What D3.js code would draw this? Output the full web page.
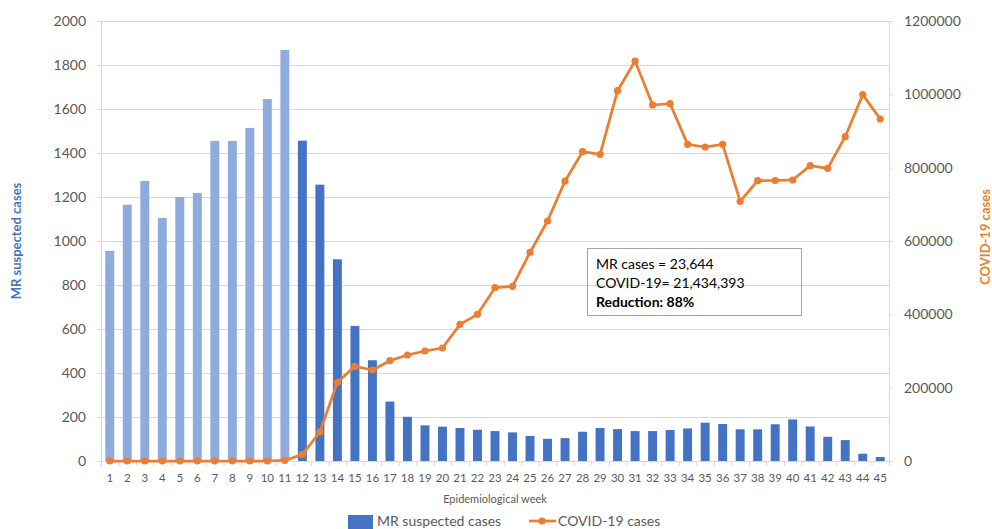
<!DOCTYPE html>
<html>
<head>
<meta charset="utf-8">
<style>
  body { margin: 0; background: #fff; }
  text { font-family: Lato, "Open Sans", sans-serif; }
</style>
</head>
<body>
<div id="chart"></div>
<script src="https://d3js.org/d3.v7.min.js"></script>
<script>

// epidemiological weeks 1..45
var weeks = d3.range(1, 46);

// MR suspected cases per week (left axis)
var mrCases = [955, 1165, 1273, 1105, 1200, 1218, 1455, 1455, 1514, 1645, 1868,
               1456, 1256, 917, 614, 458, 270, 201, 162, 156, 150, 142, 136, 130,
               114, 101, 104, 133, 150, 145, 136, 136, 141, 148, 174, 168, 144,
               144, 167, 189, 157, 110, 95, 33, 18];

// COVID-19 cases per week (right axis)
var covidCases = [0, 0, 0, 0, 0, 0, 0, 0, 0, 0, 1500,
                  18000, 79100, 214600, 258200, 248200, 273600, 289100, 300000,
                  308200, 372700, 400000, 472700, 476400, 569000, 654500, 763600,
                  843600, 836400, 1010000, 1090900, 970900, 974500, 863600, 856400,
                  863600, 708200, 764500, 765000, 766400, 805400, 798200, 884500,
                  999100, 932700];

var leftTicks = [0, 200, 400, 600, 800, 1000, 1200, 1400, 1600, 1800, 2000];
var rightTicks = [0, 200000, 400000, 600000, 800000, 1000000, 1200000];
var noteLines = ["MR cases = 23,644", "COVID-19= 21,434,393", "Reduction: 88%"];

var W = 992, H = 529;
var margin = {top: 21, right: 103, bottom: 68, left: 101},
    width = W - margin.left - margin.right,
    height = H - margin.top - margin.bottom;

var svg = d3.select("#chart").append("svg")
    .attr("width", W).attr("height", H);
var g = svg.append("g")
    .attr("transform", "translate(" + margin.left + "," + margin.top + ")");

var x = d3.scaleBand().domain(weeks).range([0, width]).paddingInner(0.49).paddingOuter(0.245);
var xLine = d3.scaleBand().domain(weeks).range([0, width]);
var yL = d3.scaleLinear().domain([0, 2000]).range([height, 0]);
var yR = d3.scaleLinear().domain([0, 1200000]).range([height, 0]);

// gridlines
g.selectAll("line.grid").data(leftTicks).enter().append("line")
    .attr("x1", 0).attr("x2", width)
    .attr("y1", function(d){ return yL(d) + 0.5 })
    .attr("y2", function(d){ return yL(d) + 0.5 })
    .attr("stroke", "#d9d9d9").attr("stroke-width", 1);

// left axis
var axL = g.append("g")
    .call(d3.axisLeft(yL).tickValues(leftTicks).tickSize(4).tickPadding(11).tickFormat(d3.format("d")));
// right axis
var axR = g.append("g").attr("transform", "translate(" + width + ",0)")
    .call(d3.axisRight(yR).tickValues(rightTicks).tickSize(4).tickPadding(11).tickFormat(d3.format("d")));
[axL, axR].forEach(function(a){
  a.select(".domain").attr("stroke", "#d9d9d9");
  a.selectAll(".tick line").attr("stroke", "#d9d9d9");
  a.selectAll(".tick text").attr("fill", "#595959").style("font-size", "14px")
    .style("font-family", "Lato, sans-serif");
});

// bottom axis ticks at band boundaries
var bounds = d3.range(0, weeks.length + 1).map(function(i){ return i * xLine.step() });
g.selectAll("line.xt").data(bounds).enter().append("line")
    .attr("x1", function(d){ return d + 0.5 }).attr("x2", function(d){ return d + 0.5 })
    .attr("y1", height).attr("y2", height + 5)
    .attr("stroke", "#d9d9d9");
g.selectAll("text.xl").data(weeks).enter().append("text")
    .attr("x", function(d){ return xLine(d) + xLine.bandwidth() / 2 })
    .attr("y", height + 21)
    .attr("text-anchor", "middle")
    .attr("fill", "#595959").style("font-size", "11.5px")
    .text(function(d){ return d });

// bars
g.selectAll("rect.bar").data(weeks).enter().append("rect")
    .attr("x", function(d){ return x(d) })
    .attr("width", x.bandwidth())
    .attr("y", function(d, i){ return yL(mrCases[i]) })
    .attr("height", function(d, i){ return height - yL(mrCases[i]) })
    .attr("fill", function(d){ return d <= 11 ? "#8faadc" : "#4472c4" });

// covid line
var line = d3.line()
    .x(function(d, i){ return xLine(weeks[i]) + xLine.bandwidth() / 2 })
    .y(function(d){ return yR(d) });
g.append("path").datum(covidCases)
    .attr("d", line).attr("fill", "none")
    .attr("stroke", "#ed7d31").attr("stroke-width", 2.75).attr("stroke-linejoin", "round");
g.selectAll("circle.pt").data(covidCases).enter().append("circle")
    .attr("cx", function(d, i){ return xLine(weeks[i]) + xLine.bandwidth() / 2 })
    .attr("cy", function(d){ return yR(d) })
    .attr("r", 3.6).attr("fill", "#ed7d31");

// annotation box
svg.append("rect")
    .attr("x", 587.5).attr("y", 248.5).attr("width", 214).attr("height", 67)
    .attr("fill", "none").attr("stroke", "#a6a6a6");
svg.selectAll("text.note").data(noteLines).enter().append("text")
    .attr("x", 596).attr("y", function(d, i){ return 269 + i * 19 })
    .attr("fill", "#000").style("font-size", "14px")
    .style("font-weight", function(d, i){ return i == 2 ? "bold" : "normal" })
    .text(function(d){ return d });

// axis titles
svg.append("text")
    .attr("transform", "translate(21," + (margin.top + height / 2) + ") rotate(-90)")
    .attr("text-anchor", "middle").attr("fill", "#4472c4")
    .style("font-size", "13px").style("font-weight", "bold")
    .text("MR suspected cases");
svg.append("text")
    .attr("transform", "translate(990," + (margin.top + height / 2 - 4) + ") rotate(-90)")
    .attr("text-anchor", "middle").attr("fill", "#ed7d31")
    .style("font-size", "13px").style("font-weight", "bold")
    .text("COVID-19 cases");
svg.append("text")
    .attr("x", margin.left + width / 2).attr("y", 503)
    .attr("text-anchor", "middle").attr("fill", "#595959")
    .style("font-size", "11px")
    .text("Epidemiological week");

// legend
var lg = svg.append("g");
lg.append("rect").attr("x", 348).attr("y", 515).attr("width", 25).attr("height", 14).attr("fill", "#4472c4");
lg.append("text").attr("x", 377).attr("y", 526).attr("fill", "#595959").style("font-size", "14px")
  .text("MR suspected cases");
lg.append("line").attr("x1", 529).attr("x2", 556).attr("y1", 521).attr("y2", 521)
  .attr("stroke", "#ed7d31").attr("stroke-width", 2.75);
lg.append("circle").attr("cx", 542).attr("cy", 521).attr("r", 3.6).attr("fill", "#ed7d31");
lg.append("text").attr("x", 558).attr("y", 526).attr("fill", "#595959").style("font-size", "14px")
  .text("COVID-19 cases");

</script>
</body>
</html>
